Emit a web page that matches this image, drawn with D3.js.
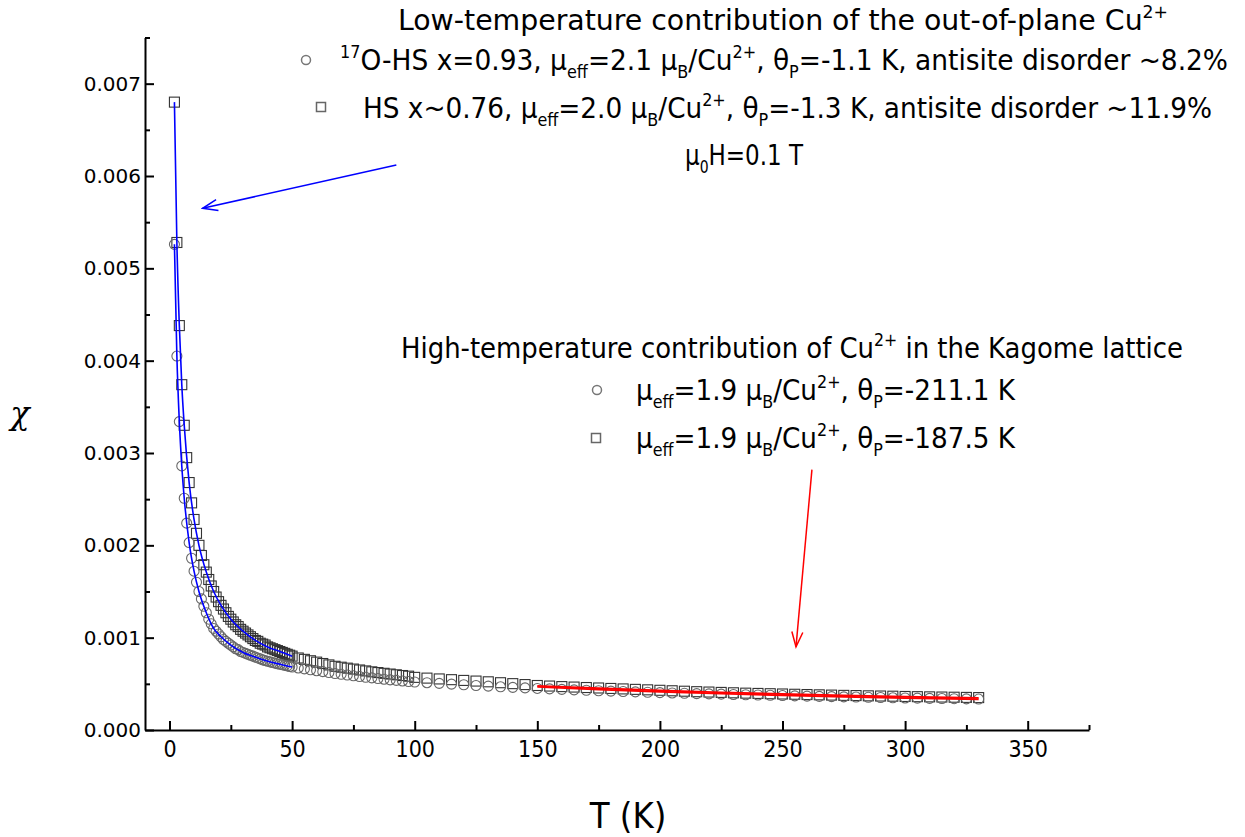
<!DOCTYPE html>
<html>
<head>
<meta charset="utf-8">
<script src="https://cdn.jsdelivr.net/npm/d3@7"></script>
<style>
  body { margin: 0; background: #fff; }
  svg { display: block; }
  .axis path, .axis line { stroke: #000; stroke-width: 2; }
  .y-axis .tick text { font-family: 'DejaVu Sans', Verdana, sans-serif; font-size: 20px; fill: #000; }
  .x-axis .tick text { font-family: 'DejaVu Sans Condensed', 'DejaVu Sans', sans-serif; font-stretch: condensed; font-size: 23px; fill: #000; }
  .note { font-family: 'DejaVu Sans Condensed', 'DejaVu Sans', sans-serif; font-stretch: condensed; font-size: 28px; fill: #000; }
</style>
</head>
<body>
<div id="chart"></div>
<script>
// Temperatures (K) shared by both measured series
const temps = [
  2, 3, 4, 5, 6, 7, 8, 9, 10, 11, 12, 13, 14, 15, 16, 17, 18, 19, 20, 21, 22, 23, 24, 25, 26,
  27, 28, 29, 30, 31, 32, 33, 34, 35, 36, 37, 38, 39, 40, 41, 42, 43, 44, 45, 46, 47, 48, 49, 50,
  52.5, 55, 57.5, 60, 62.5, 65, 67.5, 70, 72.5, 75, 77.5, 80, 82.5, 85, 87.5, 90, 92.5, 95, 97.5,
  100, 105, 110, 115, 120, 125, 130, 135, 140, 145, 150, 155, 160, 165, 170, 175, 180, 185, 190,
  195, 200, 205, 210, 215, 220, 225, 230, 235, 240, 245, 250, 255, 260, 265, 270, 275, 280, 285,
  290, 295, 300, 305, 310, 315, 320, 325, 330,
];

// 17O-HS x=0.93 (circles)
const chi17O = [
  0.00526, 0.00405, 0.00334, 0.00286, 0.00251, 0.00224, 0.00203, 0.00186, 0.00172, 0.0016, 0.0015,
  0.00142, 0.00134, 0.00127, 0.0012, 0.00115, 0.0011, 0.00107, 0.00104, 0.00101, 0.00098, 0.00096,
  0.00094, 0.00092, 0.0009, 0.00088, 0.00087, 0.00085, 0.00084, 0.00083, 0.00082, 0.00081, 0.0008,
  0.00079, 0.00078, 0.00077, 0.00076, 0.000752, 0.000745, 0.000738, 0.000731, 0.000724, 0.000718,
  0.000712, 0.000706, 0.0007, 0.000694, 0.000688, 0.000682,
  0.000672, 0.000662, 0.000652, 0.000642, 0.000632, 0.000622, 0.000612, 0.000603, 0.000595,
  0.000587, 0.000579, 0.000571, 0.000564, 0.000557, 0.00055, 0.000543, 0.000537, 0.000531, 0.000525,
  0.00052, 0.000512, 0.000505, 0.000497, 0.00049, 0.000482, 0.000475, 0.000468, 0.000462, 0.000456,
  0.00045, 0.000445, 0.00044, 0.000435, 0.00043, 0.000425, 0.000421, 0.000417, 0.000413, 0.000409,
  0.000405, 0.000401, 0.000398, 0.000394, 0.000391, 0.000388, 0.000385, 0.000382, 0.000379, 0.000376,
  0.000373, 0.00037, 0.000367, 0.000364, 0.000362, 0.000359, 0.000357, 0.000354, 0.000352, 0.000349,
  0.000347, 0.000345, 0.000343, 0.000341, 0.000339, 0.000337, 0.000335,
];

// HS x~0.76 (squares)
const chiHS = [
  0.0068, 0.00528, 0.00438, 0.00374, 0.0033, 0.00295, 0.00268, 0.00246, 0.00228, 0.00213, 0.002,
  0.00189, 0.00179, 0.00171, 0.00163, 0.00156, 0.0015, 0.00144, 0.00139, 0.00135, 0.00131, 0.00127,
  0.00123, 0.0012, 0.00117, 0.00114, 0.00112, 0.00109, 0.00107, 0.00105, 0.00103, 0.00101, 0.00099,
  0.00097, 0.00096, 0.00094, 0.00093, 0.00092, 0.0009, 0.00089, 0.00088, 0.00087, 0.00086, 0.00085,
  0.00084, 0.00083, 0.00082, 0.00081, 0.0008,
  0.00078, 0.000765, 0.00075, 0.000735, 0.00072, 0.000705, 0.00069, 0.00068, 0.00067, 0.00066,
  0.00065, 0.00064, 0.00063, 0.000622, 0.000614, 0.000606, 0.000598, 0.00059, 0.000583,
  0.00057, 0.000562, 0.000553, 0.000545, 0.000537, 0.00053, 0.000522, 0.000512, 0.000502, 0.000492,
  0.000482, 0.000476, 0.00047, 0.000465, 0.00046, 0.000455, 0.00045, 0.000445, 0.00044, 0.000435,
  0.00043, 0.000425, 0.00042, 0.000415, 0.000411, 0.000407, 0.000403, 0.000399, 0.000396, 0.000393,
  0.00039, 0.000387, 0.000384, 0.000381, 0.000378, 0.000375, 0.000373, 0.00037, 0.000368, 0.000366,
  0.000363, 0.000361, 0.000359, 0.000357, 0.000355, 0.000353, 0.000351,
];

// Low-temperature Curie-Weiss fits (blue)
const fitLowT = [2, 3, 4, 5, 6, 8, 10, 12, 15, 18, 21, 25, 30, 35, 40, 45, 50];
const fitLow17O = [0.00526, 0.00405, 0.00334, 0.00286, 0.00251, 0.00203, 0.00172, 0.0015, 0.00127,
  0.0011, 0.00101, 0.00092, 0.00084, 0.00079, 0.000745, 0.000712, 0.000682];
const fitLowHS = [0.0068, 0.00528, 0.00438, 0.00374, 0.0033, 0.00268, 0.00228, 0.002, 0.00171,
  0.0015, 0.00135, 0.0012, 0.00107, 0.00097, 0.0009, 0.00085, 0.0008];

// High-temperature Kagome fits (red)
const fitHighT = [150, 175, 200, 225, 250, 275, 300, 330];
const fitHigh17O = [0.000468, 0.000438, 0.000414, 0.000394, 0.000376, 0.00036, 0.000346, 0.000333];
const fitHighHS = [0.000478, 0.000452, 0.00043, 0.000408, 0.00039, 0.000374, 0.00036, 0.000348];

// Axis ticks
const xTicks = [0, 50, 100, 150, 200, 250, 300, 350];
const xMinorTicks = [25, 75, 125, 175, 225, 275, 325, 375];
const yTicks = [0, 0.001, 0.002, 0.003, 0.004, 0.005, 0.006, 0.007];
const yMinorTicks = [0.0005, 0.0015, 0.0025, 0.0035, 0.0045, 0.0055, 0.0065, 0.0075];

class ChiChart {
  constructor(_config) {
    this.config = {
      parentElement: _config.parentElement,
      containerWidth: 1245,
      containerHeight: 837,
      xRange: [145, 1089],
      yRange: [730, 37.5],
    };
    this.initVis();
  }

  initVis() {
    const vis = this;

    vis.svg = d3.select(vis.config.parentElement).append('svg')
      .attr('width', vis.config.containerWidth)
      .attr('height', vis.config.containerHeight);

    vis.xScale = d3.scaleLinear().domain([-10, 375]).range(vis.config.xRange);
    vis.yScale = d3.scaleLinear().domain([0, 0.0075]).range(vis.config.yRange);

    // arrow heads
    const defs = vis.svg.append('defs');
    [['arrow-blue', '#0000ff'], ['arrow-red', '#ff0000']].forEach(([id, col]) => {
      defs.append('marker')
        .attr('id', id)
        .attr('viewBox', '-16 -8 18 16')
        .attr('markerWidth', 18)
        .attr('markerHeight', 16)
        .attr('markerUnits', 'userSpaceOnUse')
        .attr('orient', 'auto')
        .append('path')
        .attr('d', 'M-15,-5.5 L0,0 L-15,5.5')
        .attr('fill', 'none')
        .attr('stroke', col)
        .attr('stroke-width', 1.5);
    });

    vis.renderVis();
  }

  renderVis() {
    const vis = this;
    const x = vis.xScale;
    const y = vis.yScale;

    const seriesHS = temps.map((t, i) => ({ t, chi: chiHS[i] })).filter((d) => d.chi != null);
    const series17O = temps.map((t, i) => ({ t, chi: chi17O[i] })).filter((d) => d.chi != null);

    // markers
    vis.svg.append('g').selectAll('rect')
      .data(seriesHS)
      .join('rect')
      .attr('x', (d) => x(d.t) - 5)
      .attr('y', (d) => y(d.chi) - 5)
      .attr('width', 10)
      .attr('height', 10)
      .attr('fill', 'none')
      .attr('stroke', '#333')
      .attr('stroke-width', 1.1);

    vis.svg.append('g').selectAll('circle')
      .data(series17O)
      .join('circle')
      .attr('cx', (d) => x(d.t))
      .attr('cy', (d) => y(d.chi))
      .attr('r', 5)
      .attr('fill', 'none')
      .attr('stroke', '#666')
      .attr('stroke-width', 1.1);

    // fit curves
    const line = d3.line().x((d) => x(d[0])).y((d) => y(d[1]));
    const smooth = d3.line().x((d) => x(d[0])).y((d) => y(d[1])).curve(d3.curveMonotoneX);
    [fitLowHS, fitLow17O].forEach((vals) => {
      vis.svg.append('path')
        .attr('d', smooth(d3.zip(fitLowT, vals)))
        .attr('fill', 'none')
        .attr('stroke', '#0000ff')
        .attr('stroke-width', 1.6);
    });
    [fitHighHS, fitHigh17O].forEach((vals) => {
      vis.svg.append('path')
        .attr('d', line(d3.zip(fitHighT, vals)))
        .attr('fill', 'none')
        .attr('stroke', '#ff0000')
        .attr('stroke-width', 1.8);
    });

    // axes
    const xAxisG = vis.svg.append('g')
      .attr('class', 'axis x-axis')
      .attr('transform', `translate(0,${vis.config.yRange[0]})`);
    xAxisG.call(d3.axisBottom(x).tickValues(xTicks).tickSizeInner(-9).tickSizeOuter(0)
      .tickPadding(11));
    xAxisG.append('g').call(d3.axisBottom(x).tickValues(xMinorTicks).tickSizeInner(-5)
      .tickSizeOuter(0).tickFormat(''))
      .call((g) => g.select('.domain').remove());

    const yAxisG = vis.svg.append('g')
      .attr('class', 'axis y-axis')
      .attr('transform', `translate(${vis.config.xRange[0]},0)`);
    yAxisG.call(d3.axisLeft(y).tickValues(yTicks).tickSizeInner(-9).tickSizeOuter(0)
      .tickPadding(4).tickFormat(d3.format('.3f')));
    yAxisG.append('g').call(d3.axisLeft(y).tickValues(yMinorTicks).tickSizeInner(-5)
      .tickSizeOuter(0).tickFormat(''))
      .call((g) => g.select('.domain').remove());

    // axis titles
    vis.svg.append('text')
      .attr('x', 628)
      .attr('y', 828)
      .attr('text-anchor', 'middle')
      .style('font-family', "'DejaVu Sans Condensed', 'DejaVu Sans', sans-serif")
      .style('font-stretch', 'condensed')
      .style('font-size', '36px')
      .text('T (K)');
    vis.svg.append('text')
      .attr('x', 20)
      .attr('y', 424)
      .attr('text-anchor', 'middle')
      .style('font-family', "'DejaVu Serif', serif")
      .style('font-style', 'italic')
      .style('font-size', '32px')
      .text('χ');

    // annotation arrows
    vis.svg.append('line')
      .attr('x1', x(92.5)).attr('y1', y(0.00612))
      .attr('x2', x(13.5)).attr('y2', y(0.00565))
      .attr('stroke', '#0000ff').attr('stroke-width', 1.5)
      .attr('marker-end', 'url(#arrow-blue)');
    vis.svg.append('line')
      .attr('x1', x(262)).attr('y1', y(0.00282))
      .attr('x2', x(255.5)).attr('y2', y(0.00090))
      .attr('stroke', '#ff0000').attr('stroke-width', 1.5)
      .attr('marker-end', 'url(#arrow-red)');

    // legend / notes, each fitted to the width it has in the original
    const fs = 28;
    const notes = [
      { x: 398, y: 30, w: 770, s: 'Low-temperature contribution of the out-of-plane Cu^{2+}' },
      { x: 340, y: 70, w: 888, s: '^{17}O-HS x=0.93, μ_{eff}=2.1 μ_{B}/Cu^{2+}, θ_{P}=-1.1 K, antisite disorder ~8.2%' },
      { x: 363, y: 118, w: 849, s: 'HS x~0.76, μ_{eff}=2.0 μ_{B}/Cu^{2+}, θ_{P}=-1.3 K, antisite disorder ~11.9%' },
      { x: 685, y: 165, w: 118, s: 'μ_{0}H=0.1 T' },
      { x: 401, y: 358, w: 782, s: 'High-temperature contribution of Cu^{2+} in the Kagome lattice' },
      { x: 636, y: 400, w: 379, s: 'μ_{eff}=1.9 μ_{B}/Cu^{2+}, θ_{P}=-211.1 K' },
      { x: 636, y: 448, w: 379, s: 'μ_{eff}=1.9 μ_{B}/Cu^{2+}, θ_{P}=-187.5 K' },
    ];
    notes.forEach((n) => {
      const t = vis.svg.append('text')
        .attr('class', 'note')
        .attr('x', n.x)
        .attr('y', n.y)
        .attr('textLength', n.w)
        .attr('lengthAdjust', 'spacingAndGlyphs');
      vis.richText(t, n.s, fs);
    });

    const keyCircles = [[306, 60], [597, 390]];
    const keySquares = [[321, 107], [596, 438]];
    vis.svg.selectAll('.key-circle')
      .data(keyCircles)
      .join('circle')
      .attr('class', 'key-circle')
      .attr('cx', (d) => d[0]).attr('cy', (d) => d[1])
      .attr('r', 4.5)
      .attr('fill', 'none').attr('stroke', '#777').attr('stroke-width', 1.5);
    vis.svg.selectAll('.key-square')
      .data(keySquares)
      .join('rect')
      .attr('class', 'key-square')
      .attr('x', (d) => d[0] - 4.5).attr('y', (d) => d[1] - 4.5)
      .attr('width', 9).attr('height', 9)
      .attr('fill', 'none').attr('stroke', '#666').attr('stroke-width', 1.5);
  }

  // _{..} subscripts and ^{..} superscripts as tspans
  richText(textSel, str, fs) {
    const parts = str.split(/(_\{[^}]*\}|\^\{[^}]*\})/).filter((p) => p.length);
    let shift = 0;
    parts.forEach((p) => {
      let target = 0;
      let content = p;
      let small = false;
      if (p.startsWith('_{')) {
        target = 0.3 * fs; content = p.slice(2, -1); small = true;
      } else if (p.startsWith('^{')) {
        target = -0.42 * fs; content = p.slice(2, -1); small = true;
      }
      const ts = textSel.append('tspan').attr('dy', target - shift).text(content);
      if (small) ts.style('font-size', `${Math.round(fs * 0.6)}px`);
      shift = target;
    });
  }
}

new ChiChart({ parentElement: '#chart' });
</script>
</body>
</html>
